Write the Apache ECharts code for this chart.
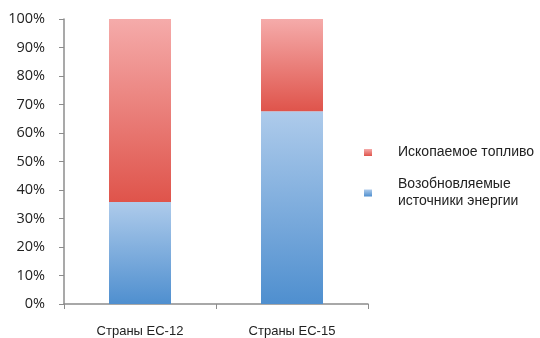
<!DOCTYPE html>
<html>
<head>
<meta charset="utf-8">
<script src="https://cdn.jsdelivr.net/npm/echarts@6/dist/echarts.min.js"></script>
<style>
  html, body { margin: 0; padding: 0; background: #fff; }
  #chart { width: 540px; height: 338px; }
</style>
</head>
<body>
<div id="chart"></div>
<script>
// Energy mix by country group, share of total (%)
const categories = ['Страны ЕС-12', 'Страны ЕС-15'];
const renewableName = 'Возобновляемые\nисточники энергии';
const fossilName = 'Ископаемое топливо';
const renewable = [35.8, 67.6];
const fossil = [64.2, 32.4];
const yTicks = [0, 10, 20, 30, 40, 50, 60, 70, 80, 90, 100];

const blueFill = new echarts.graphic.LinearGradient(0, 0, 0, 1, [
  { offset: 0, color: '#aecbeb' },
  { offset: 1, color: '#4f8fcf' }
]);
const redFill = new echarts.graphic.LinearGradient(0, 0, 0, 1, [
  { offset: 0, color: '#f5abaa' },
  { offset: 1, color: '#df544b' }
]);

const chart = echarts.init(document.getElementById('chart'), null, { renderer: 'canvas' });
chart.setOption({
  animation: false,
  grid: { left: 64, right: 172, top: 19, bottom: 33 },
  legend: {
    orient: 'vertical',
    left: 364,
    top: 144,
    padding: 0,
    itemGap: 15,
    itemWidth: 8,
    itemHeight: 7,
    icon: 'rect',
    data: [fossilName, renewableName],
    textStyle: { fontFamily: 'Liberation Sans', fontSize: 14, color: '#222', lineHeight: 17, padding: [0, 0, 0, 21] }
  },
  xAxis: {
    type: 'category',
    data: categories,
    axisLine: { lineStyle: { color: '#8c8c8c', width: 1.5 } },
    axisTick: { show: true, length: 5, lineStyle: { color: '#8c8c8c' } },
    axisLabel: { fontFamily: 'Liberation Sans', fontSize: 13, color: '#222', margin: 21 }
  },
  yAxis: {
    type: 'value',
    min: yTicks[0],
    max: yTicks[yTicks.length - 1],
    interval: 10,
    axisLine: { show: true, lineStyle: { color: '#8c8c8c', width: 1.5 } },
    axisTick: { show: true, length: 5, lineStyle: { color: '#8c8c8c' } },
    splitLine: { show: false },
    axisLabel: { formatter: '{value}%', fontFamily: 'Open Sans', fontSize: 14.5, color: '#222', margin: 19 }
  },
  series: [
    {
      name: renewableName,
      type: 'bar',
      stack: 'mix',
      barWidth: 62,
      data: renewable,
      itemStyle: { color: blueFill }
    },
    {
      name: fossilName,
      type: 'bar',
      stack: 'mix',
      barWidth: 62,
      data: fossil,
      itemStyle: { color: redFill }
    }
  ]
});
</script>
</body>
</html>
